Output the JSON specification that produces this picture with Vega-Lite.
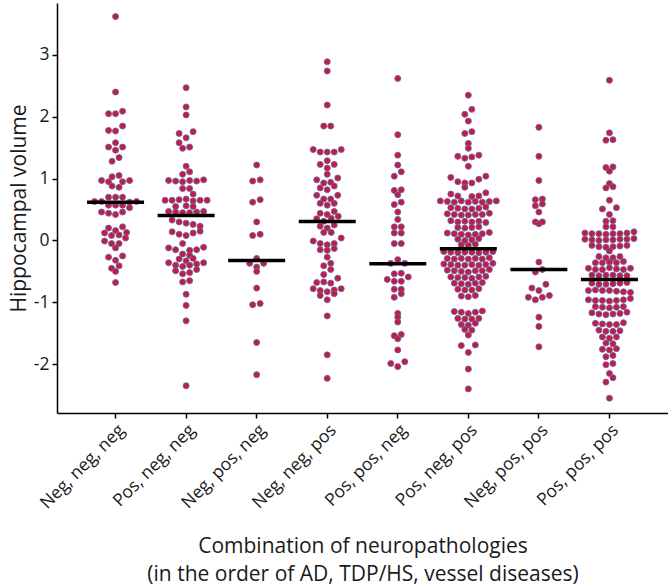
{
"$schema":"https://vega.github.io/schema/vega-lite/v6.json",
"width":611,"height":410,
"autosize":"none",
"padding":{"left":57,"top":3,"right":0,"bottom":174},
"background":"white",
"config":{"view":{"stroke":null},"font":"Open Sans",
"axis":{"domainColor":"#000","domainWidth":1.5,"tickColor":"#000","tickWidth":1.5,"tickSize":5,"grid":false,"labelFont":"Open Sans","titleFont":"Open Sans","labelFontSize":17.5,"labelColor":"#1a1a1a","titleFontSize":21,"titleFontWeight":"normal","titleColor":"#1a1a1a"}},
"datasets":{
"medians":[
{"group":"Neg, neg, neg","median":0.62},{"group":"Pos, neg, neg","median":0.405},{"group":"Neg, pos, neg","median":-0.324},{"group":"Neg, neg, pos","median":0.308},{"group":"Pos, pos, neg","median":-0.378},{"group":"Pos, neg, pos","median":-0.135},{"group":"Neg, pos, pos","median":-0.47},{"group":"Pos, pos, pos","median":-0.632}],
"points":[
{"group":"Neg, neg, neg","volume":3.62,"offset":0},{"group":"Neg, neg, neg","volume":2.40,"offset":0},{"group":"Neg, neg, neg","volume":2.09,"offset":7},{"group":"Neg, neg, neg","volume":2.05,"offset":-7},{"group":"Neg, neg, neg","volume":2.05,"offset":0},{"group":"Neg, neg, neg","volume":1.85,"offset":7},{"group":"Neg, neg, neg","volume":1.78,"offset":-7},{"group":"Neg, neg, neg","volume":1.77,"offset":0},{"group":"Neg, neg, neg","volume":1.58,"offset":0},{"group":"Neg, neg, neg","volume":1.51,"offset":-7},{"group":"Neg, neg, neg","volume":1.51,"offset":7},{"group":"Neg, neg, neg","volume":1.46,"offset":0},{"group":"Neg, neg, neg","volume":1.34,"offset":3.5},{"group":"Neg, neg, neg","volume":1.28,"offset":-3.5},
{"group":"Neg, neg, neg","volume":1.05,"offset":3.5},{"group":"Neg, neg, neg","volume":1.03,"offset":-3.5},{"group":"Neg, neg, neg","volume":0.97,"offset":-14},{"group":"Neg, neg, neg","volume":0.97,"offset":14},{"group":"Neg, neg, neg","volume":0.95,"offset":-7},{"group":"Neg, neg, neg","volume":0.95,"offset":7},{"group":"Neg, neg, neg","volume":0.88,"offset":-3.5},{"group":"Neg, neg, neg","volume":0.86,"offset":3.5},
{"group":"Neg, neg, neg","volume":0.70,"offset":-7},{"group":"Neg, neg, neg","volume":0.70,"offset":0},{"group":"Neg, neg, neg","volume":0.70,"offset":7},
{"group":"Neg, neg, neg","volume":0.63,"offset":-21},{"group":"Neg, neg, neg","volume":0.63,"offset":-14},{"group":"Neg, neg, neg","volume":0.62,"offset":14},{"group":"Neg, neg, neg","volume":0.63,"offset":21},
{"group":"Neg, neg, neg","volume":0.57,"offset":-7},{"group":"Neg, neg, neg","volume":0.57,"offset":0},{"group":"Neg, neg, neg","volume":0.57,"offset":7},{"group":"Neg, neg, neg","volume":0.53,"offset":14},
{"group":"Neg, neg, neg","volume":0.46,"offset":-14},{"group":"Neg, neg, neg","volume":0.44,"offset":-7},{"group":"Neg, neg, neg","volume":0.42,"offset":0},{"group":"Neg, neg, neg","volume":0.46,"offset":7},
{"group":"Neg, neg, neg","volume":0.22,"offset":7},{"group":"Neg, neg, neg","volume":0.20,"offset":-7},{"group":"Neg, neg, neg","volume":0.16,"offset":0},{"group":"Neg, neg, neg","volume":0.13,"offset":11},{"group":"Neg, neg, neg","volume":0.12,"offset":-11},{"group":"Neg, neg, neg","volume":0.08,"offset":-4},{"group":"Neg, neg, neg","volume":0.09,"offset":3.5},
{"group":"Neg, neg, neg","volume":0.04,"offset":10},{"group":"Neg, neg, neg","volume":-0.01,"offset":-11},{"group":"Neg, neg, neg","volume":-0.05,"offset":-4},{"group":"Neg, neg, neg","volume":-0.05,"offset":3.5},{"group":"Neg, neg, neg","volume":-0.12,"offset":0},
{"group":"Neg, neg, neg","volume":-0.25,"offset":7},{"group":"Neg, neg, neg","volume":-0.27,"offset":-7},{"group":"Neg, neg, neg","volume":-0.32,"offset":0},{"group":"Neg, neg, neg","volume":-0.41,"offset":3.5},{"group":"Neg, neg, neg","volume":-0.45,"offset":-4},{"group":"Neg, neg, neg","volume":-0.50,"offset":0},{"group":"Neg, neg, neg","volume":-0.68,"offset":0},

{"group":"Pos, neg, neg","volume":2.47,"offset":0},{"group":"Pos, neg, neg","volume":2.16,"offset":0},{"group":"Pos, neg, neg","volume":2.03,"offset":0},{"group":"Pos, neg, neg","volume":1.76,"offset":7},{"group":"Pos, neg, neg","volume":1.73,"offset":-7},{"group":"Pos, neg, neg","volume":1.66,"offset":0},{"group":"Pos, neg, neg","volume":1.58,"offset":-7},{"group":"Pos, neg, neg","volume":1.51,"offset":3.5},{"group":"Pos, neg, neg","volume":1.49,"offset":-3.5},{"group":"Pos, neg, neg","volume":1.20,"offset":0},{"group":"Pos, neg, neg","volume":1.11,"offset":3.5},{"group":"Pos, neg, neg","volume":1.07,"offset":-3.5},
{"group":"Pos, neg, neg","volume":0.97,"offset":-17.5},{"group":"Pos, neg, neg","volume":0.96,"offset":-10.5},{"group":"Pos, neg, neg","volume":0.95,"offset":-3.5},{"group":"Pos, neg, neg","volume":0.97,"offset":3.5},{"group":"Pos, neg, neg","volume":0.96,"offset":10.5},{"group":"Pos, neg, neg","volume":0.98,"offset":17.5},
{"group":"Pos, neg, neg","volume":0.84,"offset":-3.5},{"group":"Pos, neg, neg","volume":0.84,"offset":3.5},{"group":"Pos, neg, neg","volume":0.75,"offset":7},
{"group":"Pos, neg, neg","volume":0.65,"offset":-21},{"group":"Pos, neg, neg","volume":0.65,"offset":-14},{"group":"Pos, neg, neg","volume":0.66,"offset":-7},{"group":"Pos, neg, neg","volume":0.67,"offset":0},{"group":"Pos, neg, neg","volume":0.64,"offset":7},{"group":"Pos, neg, neg","volume":0.65,"offset":14},{"group":"Pos, neg, neg","volume":0.65,"offset":21},
{"group":"Pos, neg, neg","volume":0.55,"offset":-10.5},{"group":"Pos, neg, neg","volume":0.56,"offset":0},{"group":"Pos, neg, neg","volume":0.55,"offset":7},
{"group":"Pos, neg, neg","volume":0.47,"offset":-17.5},{"group":"Pos, neg, neg","volume":0.46,"offset":-10.5},{"group":"Pos, neg, neg","volume":0.45,"offset":-3.5},{"group":"Pos, neg, neg","volume":0.45,"offset":3.5},{"group":"Pos, neg, neg","volume":0.46,"offset":10.5},{"group":"Pos, neg, neg","volume":0.47,"offset":17.5},
{"group":"Pos, neg, neg","volume":0.33,"offset":-14},{"group":"Pos, neg, neg","volume":0.30,"offset":-7},{"group":"Pos, neg, neg","volume":0.28,"offset":0},{"group":"Pos, neg, neg","volume":0.26,"offset":7},{"group":"Pos, neg, neg","volume":0.23,"offset":14},
{"group":"Pos, neg, neg","volume":0.14,"offset":-14},{"group":"Pos, neg, neg","volume":0.10,"offset":-7},{"group":"Pos, neg, neg","volume":0.08,"offset":0},{"group":"Pos, neg, neg","volume":0.12,"offset":7},{"group":"Pos, neg, neg","volume":0.15,"offset":14},
{"group":"Pos, neg, neg","volume":-0.05,"offset":-3.5},
{"group":"Pos, neg, neg","volume":-0.12,"offset":-17.5},{"group":"Pos, neg, neg","volume":-0.15,"offset":-10.5},{"group":"Pos, neg, neg","volume":-0.16,"offset":3.5},{"group":"Pos, neg, neg","volume":-0.15,"offset":10.5},{"group":"Pos, neg, neg","volume":-0.11,"offset":17.5},
{"group":"Pos, neg, neg","volume":-0.22,"offset":-3.5},{"group":"Pos, neg, neg","volume":-0.24,"offset":3.5},
{"group":"Pos, neg, neg","volume":-0.30,"offset":-7},{"group":"Pos, neg, neg","volume":-0.33,"offset":0},{"group":"Pos, neg, neg","volume":-0.29,"offset":7},{"group":"Pos, neg, neg","volume":-0.36,"offset":-17.5},{"group":"Pos, neg, neg","volume":-0.40,"offset":-10.5},{"group":"Pos, neg, neg","volume":-0.42,"offset":-3.5},{"group":"Pos, neg, neg","volume":-0.40,"offset":3.5},{"group":"Pos, neg, neg","volume":-0.38,"offset":10.5},{"group":"Pos, neg, neg","volume":-0.36,"offset":17.5},
{"group":"Pos, neg, neg","volume":-0.49,"offset":-10.5},{"group":"Pos, neg, neg","volume":-0.54,"offset":-3.5},{"group":"Pos, neg, neg","volume":-0.52,"offset":3.5},{"group":"Pos, neg, neg","volume":-0.47,"offset":10.5},
{"group":"Pos, neg, neg","volume":-0.67,"offset":-3.5},{"group":"Pos, neg, neg","volume":-0.65,"offset":3.5},
{"group":"Pos, neg, neg","volume":-0.87,"offset":0},{"group":"Pos, neg, neg","volume":-1.05,"offset":0},{"group":"Pos, neg, neg","volume":-1.30,"offset":0},{"group":"Pos, neg, neg","volume":-2.35,"offset":0},

{"group":"Neg, pos, neg","volume":1.22,"offset":0},{"group":"Neg, pos, neg","volume":0.96,"offset":-4},{"group":"Neg, pos, neg","volume":0.98,"offset":3.5},{"group":"Neg, pos, neg","volume":0.62,"offset":-4},{"group":"Neg, pos, neg","volume":0.66,"offset":3.5},{"group":"Neg, pos, neg","volume":0.30,"offset":0},{"group":"Neg, pos, neg","volume":0.08,"offset":-4},{"group":"Neg, pos, neg","volume":0.10,"offset":3.5},{"group":"Neg, pos, neg","volume":-0.29,"offset":0},{"group":"Neg, pos, neg","volume":-0.37,"offset":-7},{"group":"Neg, pos, neg","volume":-0.37,"offset":7},{"group":"Neg, pos, neg","volume":-0.43,"offset":0},{"group":"Neg, pos, neg","volume":-0.50,"offset":0},{"group":"Neg, pos, neg","volume":-0.77,"offset":0},{"group":"Neg, pos, neg","volume":-1.04,"offset":-4},{"group":"Neg, pos, neg","volume":-1.02,"offset":3.5},{"group":"Neg, pos, neg","volume":-1.65,"offset":0},{"group":"Neg, pos, neg","volume":-2.17,"offset":0},

{"group":"Neg, neg, pos","volume":2.89,"offset":0},{"group":"Neg, neg, pos","volume":2.74,"offset":0},{"group":"Neg, neg, pos","volume":2.19,"offset":0},{"group":"Neg, neg, pos","volume":1.85,"offset":-3.5},{"group":"Neg, neg, pos","volume":1.85,"offset":3.5},{"group":"Neg, neg, pos","volume":1.47,"offset":-14},{"group":"Neg, neg, pos","volume":1.43,"offset":-7},{"group":"Neg, neg, pos","volume":1.43,"offset":0},{"group":"Neg, neg, pos","volume":1.43,"offset":7},{"group":"Neg, neg, pos","volume":1.47,"offset":14},{"group":"Neg, neg, pos","volume":1.29,"offset":0},{"group":"Neg, neg, pos","volume":1.23,"offset":-7},{"group":"Neg, neg, pos","volume":1.23,"offset":7},{"group":"Neg, neg, pos","volume":1.17,"offset":0},{"group":"Neg, neg, pos","volume":1.07,"offset":0},
{"group":"Neg, neg, pos","volume":0.98,"offset":-10.5},{"group":"Neg, neg, pos","volume":0.93,"offset":-3.5},{"group":"Neg, neg, pos","volume":0.94,"offset":3.5},{"group":"Neg, neg, pos","volume":1.01,"offset":10.5},{"group":"Neg, neg, pos","volume":0.88,"offset":7},{"group":"Neg, neg, pos","volume":0.85,"offset":-7},{"group":"Neg, neg, pos","volume":0.82,"offset":0},{"group":"Neg, neg, pos","volume":0.73,"offset":-10.5},{"group":"Neg, neg, pos","volume":0.73,"offset":10.5},
{"group":"Neg, neg, pos","volume":0.67,"offset":-3.5},{"group":"Neg, neg, pos","volume":0.67,"offset":3.5},{"group":"Neg, neg, pos","volume":0.60,"offset":-7},{"group":"Neg, neg, pos","volume":0.57,"offset":0},{"group":"Neg, neg, pos","volume":0.60,"offset":7},
{"group":"Neg, neg, pos","volume":0.44,"offset":-7},{"group":"Neg, neg, pos","volume":0.42,"offset":0},{"group":"Neg, neg, pos","volume":0.47,"offset":7},{"group":"Neg, neg, pos","volume":0.39,"offset":11},{"group":"Neg, neg, pos","volume":0.35,"offset":-10.5},{"group":"Neg, neg, pos","volume":0.36,"offset":4},{"group":"Neg, neg, pos","volume":0.31,"offset":-3.5},{"group":"Neg, neg, pos","volume":0.25,"offset":7},{"group":"Neg, neg, pos","volume":0.23,"offset":-7},{"group":"Neg, neg, pos","volume":0.20,"offset":0},{"group":"Neg, neg, pos","volume":0.13,"offset":-3.5},{"group":"Neg, neg, pos","volume":0.13,"offset":4},
{"group":"Neg, neg, pos","volume":-0.01,"offset":-14},{"group":"Neg, neg, pos","volume":-0.05,"offset":-7},{"group":"Neg, neg, pos","volume":-0.07,"offset":0},{"group":"Neg, neg, pos","volume":-0.05,"offset":7},{"group":"Neg, neg, pos","volume":0.04,"offset":14},{"group":"Neg, neg, pos","volume":-0.15,"offset":-7},{"group":"Neg, neg, pos","volume":-0.16,"offset":0},{"group":"Neg, neg, pos","volume":-0.13,"offset":7},
{"group":"Neg, neg, pos","volume":-0.27,"offset":0},{"group":"Neg, neg, pos","volume":-0.37,"offset":3.5},{"group":"Neg, neg, pos","volume":-0.41,"offset":-3.5},{"group":"Neg, neg, pos","volume":-0.47,"offset":3.5},
{"group":"Neg, neg, pos","volume":-0.55,"offset":-3.5},{"group":"Neg, neg, pos","volume":-0.61,"offset":10.5},{"group":"Neg, neg, pos","volume":-0.68,"offset":-10.5},{"group":"Neg, neg, pos","volume":-0.67,"offset":-3.5},{"group":"Neg, neg, pos","volume":-0.69,"offset":3.5},{"group":"Neg, neg, pos","volume":-0.78,"offset":-14},{"group":"Neg, neg, pos","volume":-0.81,"offset":-7},{"group":"Neg, neg, pos","volume":-0.83,"offset":0},{"group":"Neg, neg, pos","volume":-0.80,"offset":7},{"group":"Neg, neg, pos","volume":-0.78,"offset":14},{"group":"Neg, neg, pos","volume":-0.89,"offset":-7},{"group":"Neg, neg, pos","volume":-0.96,"offset":0},{"group":"Neg, neg, pos","volume":-0.86,"offset":7},
{"group":"Neg, neg, pos","volume":-1.22,"offset":0},{"group":"Neg, neg, pos","volume":-1.85,"offset":0},{"group":"Neg, neg, pos","volume":-2.23,"offset":0},

{"group":"Pos, pos, neg","volume":2.62,"offset":0},{"group":"Pos, pos, neg","volume":1.71,"offset":0},{"group":"Pos, pos, neg","volume":1.38,"offset":0},{"group":"Pos, pos, neg","volume":1.22,"offset":0},{"group":"Pos, pos, neg","volume":1.11,"offset":3.5},{"group":"Pos, pos, neg","volume":1.04,"offset":-3.5},{"group":"Pos, pos, neg","volume":0.81,"offset":-3.5},{"group":"Pos, pos, neg","volume":0.82,"offset":3.5},{"group":"Pos, pos, neg","volume":0.74,"offset":0},{"group":"Pos, pos, neg","volume":0.62,"offset":3.5},{"group":"Pos, pos, neg","volume":0.58,"offset":-3.5},{"group":"Pos, pos, neg","volume":0.46,"offset":0},{"group":"Pos, pos, neg","volume":0.34,"offset":0},{"group":"Pos, pos, neg","volume":0.22,"offset":-3.5},{"group":"Pos, pos, neg","volume":0.22,"offset":3.5},{"group":"Pos, pos, neg","volume":0.12,"offset":-3.5},{"group":"Pos, pos, neg","volume":0.12,"offset":3.5},{"group":"Pos, pos, neg","volume":-0.05,"offset":-3.5},{"group":"Pos, pos, neg","volume":-0.05,"offset":3.5},{"group":"Pos, pos, neg","volume":-0.31,"offset":0},{"group":"Pos, pos, neg","volume":-0.37,"offset":-7},{"group":"Pos, pos, neg","volume":-0.37,"offset":7},{"group":"Pos, pos, neg","volume":-0.54,"offset":-3.5},{"group":"Pos, pos, neg","volume":-0.53,"offset":3.5},{"group":"Pos, pos, neg","volume":-0.59,"offset":10.5},{"group":"Pos, pos, neg","volume":-0.63,"offset":-10.5},{"group":"Pos, pos, neg","volume":-0.66,"offset":-3.5},{"group":"Pos, pos, neg","volume":-0.66,"offset":3.5},
{"group":"Pos, pos, neg","volume":-0.79,"offset":-3.5},{"group":"Pos, pos, neg","volume":-0.79,"offset":3.5},{"group":"Pos, pos, neg","volume":-0.92,"offset":-3.5},{"group":"Pos, pos, neg","volume":-0.86,"offset":3.5},{"group":"Pos, pos, neg","volume":-1.18,"offset":0},{"group":"Pos, pos, neg","volume":-1.24,"offset":0},{"group":"Pos, pos, neg","volume":-1.32,"offset":0},{"group":"Pos, pos, neg","volume":-1.54,"offset":-3.5},{"group":"Pos, pos, neg","volume":-1.52,"offset":3.5},{"group":"Pos, pos, neg","volume":-1.59,"offset":0},{"group":"Pos, pos, neg","volume":-1.77,"offset":0},{"group":"Pos, pos, neg","volume":-1.99,"offset":-7},{"group":"Pos, pos, neg","volume":-1.96,"offset":7},{"group":"Pos, pos, neg","volume":-2.04,"offset":0},

{"group":"Pos, neg, pos","volume":2.35,"offset":0},{"group":"Pos, neg, pos","volume":2.12,"offset":3.5},{"group":"Pos, neg, pos","volume":2.04,"offset":-3.5},{"group":"Pos, neg, pos","volume":1.93,"offset":0},{"group":"Pos, neg, pos","volume":1.76,"offset":3.5},{"group":"Pos, neg, pos","volume":1.73,"offset":-3.5},{"group":"Pos, neg, pos","volume":1.57,"offset":0},{"group":"Pos, neg, pos","volume":1.49,"offset":0},
{"group":"Pos, neg, pos","volume":1.36,"offset":-10.5},{"group":"Pos, neg, pos","volume":1.33,"offset":-3.5},{"group":"Pos, neg, pos","volume":1.35,"offset":3.5},{"group":"Pos, neg, pos","volume":1.38,"offset":10.5},{"group":"Pos, neg, pos","volume":1.20,"offset":0},
{"group":"Pos, neg, pos","volume":1.02,"offset":-17.5},{"group":"Pos, neg, pos","volume":0.95,"offset":-10.5},{"group":"Pos, neg, pos","volume":0.93,"offset":-3.5},{"group":"Pos, neg, pos","volume":0.93,"offset":3.5},{"group":"Pos, neg, pos","volume":0.99,"offset":10.5},{"group":"Pos, neg, pos","volume":1.04,"offset":17.5},
{"group":"Pos, neg, pos","volume":0.86,"offset":-3.5},{"group":"Pos, neg, pos","volume":0.75,"offset":-17.5},{"group":"Pos, neg, pos","volume":0.77,"offset":17.5},{"group":"Pos, neg, pos","volume":0.72,"offset":-10.5},{"group":"Pos, neg, pos","volume":0.71,"offset":3.5},{"group":"Pos, neg, pos","volume":0.72,"offset":10.5},
{"group":"Pos, neg, pos","volume":0.64,"offset":-28},{"group":"Pos, neg, pos","volume":0.63,"offset":-21},{"group":"Pos, neg, pos","volume":0.62,"offset":-14},{"group":"Pos, neg, pos","volume":0.64,"offset":-7},{"group":"Pos, neg, pos","volume":0.62,"offset":0},{"group":"Pos, neg, pos","volume":0.63,"offset":7},{"group":"Pos, neg, pos","volume":0.62,"offset":14},{"group":"Pos, neg, pos","volume":0.63,"offset":21},{"group":"Pos, neg, pos","volume":0.64,"offset":28},
{"group":"Pos, neg, pos","volume":0.53,"offset":-17.5},{"group":"Pos, neg, pos","volume":0.52,"offset":-10.5},{"group":"Pos, neg, pos","volume":0.51,"offset":-3.5},{"group":"Pos, neg, pos","volume":0.51,"offset":3.5},{"group":"Pos, neg, pos","volume":0.52,"offset":10.5},{"group":"Pos, neg, pos","volume":0.54,"offset":17.5},
{"group":"Pos, neg, pos","volume":0.43,"offset":-21},{"group":"Pos, neg, pos","volume":0.42,"offset":-14},{"group":"Pos, neg, pos","volume":0.41,"offset":-7},{"group":"Pos, neg, pos","volume":0.41,"offset":0},{"group":"Pos, neg, pos","volume":0.42,"offset":7},{"group":"Pos, neg, pos","volume":0.42,"offset":14},{"group":"Pos, neg, pos","volume":0.44,"offset":21},
{"group":"Pos, neg, pos","volume":0.32,"offset":-17.5},{"group":"Pos, neg, pos","volume":0.30,"offset":-10.5},{"group":"Pos, neg, pos","volume":0.31,"offset":-3.5},{"group":"Pos, neg, pos","volume":0.30,"offset":3.5},{"group":"Pos, neg, pos","volume":0.31,"offset":10.5},{"group":"Pos, neg, pos","volume":0.29,"offset":17.5},
{"group":"Pos, neg, pos","volume":0.21,"offset":-10.5},{"group":"Pos, neg, pos","volume":0.20,"offset":-3.5},{"group":"Pos, neg, pos","volume":0.21,"offset":3.5},{"group":"Pos, neg, pos","volume":0.22,"offset":10.5},
{"group":"Pos, neg, pos","volume":0.12,"offset":-21},{"group":"Pos, neg, pos","volume":0.11,"offset":-14},{"group":"Pos, neg, pos","volume":0.10,"offset":-7},{"group":"Pos, neg, pos","volume":0.09,"offset":0},{"group":"Pos, neg, pos","volume":0.10,"offset":7},{"group":"Pos, neg, pos","volume":0.11,"offset":14},{"group":"Pos, neg, pos","volume":0.13,"offset":21},
{"group":"Pos, neg, pos","volume":0.02,"offset":-10.5},{"group":"Pos, neg, pos","volume":0.00,"offset":-3.5},{"group":"Pos, neg, pos","volume":0.01,"offset":3.5},{"group":"Pos, neg, pos","volume":0.03,"offset":10.5},
{"group":"Pos, neg, pos","volume":-0.07,"offset":-7},{"group":"Pos, neg, pos","volume":-0.08,"offset":0},{"group":"Pos, neg, pos","volume":-0.06,"offset":7},
{"group":"Pos, neg, pos","volume":-0.18,"offset":-24.5},{"group":"Pos, neg, pos","volume":-0.19,"offset":-17.5},{"group":"Pos, neg, pos","volume":-0.20,"offset":-10.5},{"group":"Pos, neg, pos","volume":-0.19,"offset":-3.5},{"group":"Pos, neg, pos","volume":-0.19,"offset":3.5},{"group":"Pos, neg, pos","volume":-0.20,"offset":10.5},{"group":"Pos, neg, pos","volume":-0.19,"offset":17.5},{"group":"Pos, neg, pos","volume":-0.18,"offset":24.5},
{"group":"Pos, neg, pos","volume":-0.29,"offset":-21},{"group":"Pos, neg, pos","volume":-0.30,"offset":-14},{"group":"Pos, neg, pos","volume":-0.29,"offset":-7},{"group":"Pos, neg, pos","volume":-0.30,"offset":0},{"group":"Pos, neg, pos","volume":-0.29,"offset":7},{"group":"Pos, neg, pos","volume":-0.30,"offset":14},{"group":"Pos, neg, pos","volume":-0.28,"offset":21},
{"group":"Pos, neg, pos","volume":-0.38,"offset":-24.5},{"group":"Pos, neg, pos","volume":-0.39,"offset":-17.5},{"group":"Pos, neg, pos","volume":-0.40,"offset":-10.5},{"group":"Pos, neg, pos","volume":-0.40,"offset":-3.5},{"group":"Pos, neg, pos","volume":-0.39,"offset":3.5},{"group":"Pos, neg, pos","volume":-0.40,"offset":10.5},{"group":"Pos, neg, pos","volume":-0.39,"offset":17.5},{"group":"Pos, neg, pos","volume":-0.37,"offset":24.5},
{"group":"Pos, neg, pos","volume":-0.48,"offset":-21},{"group":"Pos, neg, pos","volume":-0.49,"offset":-14},{"group":"Pos, neg, pos","volume":-0.50,"offset":-7},{"group":"Pos, neg, pos","volume":-0.51,"offset":0},{"group":"Pos, neg, pos","volume":-0.49,"offset":7},{"group":"Pos, neg, pos","volume":-0.49,"offset":14},{"group":"Pos, neg, pos","volume":-0.47,"offset":21},
{"group":"Pos, neg, pos","volume":-0.59,"offset":-17.5},{"group":"Pos, neg, pos","volume":-0.60,"offset":-10.5},{"group":"Pos, neg, pos","volume":-0.60,"offset":-3.5},{"group":"Pos, neg, pos","volume":-0.61,"offset":3.5},{"group":"Pos, neg, pos","volume":-0.59,"offset":10.5},{"group":"Pos, neg, pos","volume":-0.58,"offset":17.5},
{"group":"Pos, neg, pos","volume":-0.69,"offset":-14},{"group":"Pos, neg, pos","volume":-0.70,"offset":-7},{"group":"Pos, neg, pos","volume":-0.71,"offset":0},{"group":"Pos, neg, pos","volume":-0.69,"offset":7},{"group":"Pos, neg, pos","volume":-0.68,"offset":14},
{"group":"Pos, neg, pos","volume":-0.79,"offset":-10.5},{"group":"Pos, neg, pos","volume":-0.80,"offset":-3.5},{"group":"Pos, neg, pos","volume":-0.80,"offset":3.5},{"group":"Pos, neg, pos","volume":-0.78,"offset":10.5},
{"group":"Pos, neg, pos","volume":-0.90,"offset":-7},{"group":"Pos, neg, pos","volume":-0.91,"offset":0},{"group":"Pos, neg, pos","volume":-0.89,"offset":7},
{"group":"Pos, neg, pos","volume":-1.15,"offset":-14},{"group":"Pos, neg, pos","volume":-1.16,"offset":-7},{"group":"Pos, neg, pos","volume":-1.18,"offset":0},{"group":"Pos, neg, pos","volume":-1.16,"offset":7},{"group":"Pos, neg, pos","volume":-1.14,"offset":14},
{"group":"Pos, neg, pos","volume":-1.26,"offset":-10.5},{"group":"Pos, neg, pos","volume":-1.27,"offset":-3.5},{"group":"Pos, neg, pos","volume":-1.27,"offset":3.5},{"group":"Pos, neg, pos","volume":-1.26,"offset":10.5},
{"group":"Pos, neg, pos","volume":-1.36,"offset":-7},{"group":"Pos, neg, pos","volume":-1.37,"offset":0},{"group":"Pos, neg, pos","volume":-1.34,"offset":7},
{"group":"Pos, neg, pos","volume":-1.44,"offset":-3.5},{"group":"Pos, neg, pos","volume":-1.45,"offset":3.5},{"group":"Pos, neg, pos","volume":-1.53,"offset":0},
{"group":"Pos, neg, pos","volume":-1.70,"offset":-7},{"group":"Pos, neg, pos","volume":-1.69,"offset":7},{"group":"Pos, neg, pos","volume":-1.81,"offset":0},{"group":"Pos, neg, pos","volume":-2.08,"offset":0},{"group":"Pos, neg, pos","volume":-2.40,"offset":0},

{"group":"Neg, pos, pos","volume":1.83,"offset":0},{"group":"Neg, pos, pos","volume":1.36,"offset":0},{"group":"Neg, pos, pos","volume":0.97,"offset":0},{"group":"Neg, pos, pos","volume":0.66,"offset":-3.5},{"group":"Neg, pos, pos","volume":0.67,"offset":3.5},{"group":"Neg, pos, pos","volume":0.56,"offset":-3.5},{"group":"Neg, pos, pos","volume":0.59,"offset":3.5},{"group":"Neg, pos, pos","volume":0.46,"offset":0},{"group":"Neg, pos, pos","volume":0.30,"offset":-3.5},{"group":"Neg, pos, pos","volume":0.27,"offset":0},{"group":"Neg, pos, pos","volume":0.30,"offset":3.5},{"group":"Neg, pos, pos","volume":-0.35,"offset":0},{"group":"Neg, pos, pos","volume":-0.51,"offset":-3.5},{"group":"Neg, pos, pos","volume":-0.47,"offset":3.5},{"group":"Neg, pos, pos","volume":-0.77,"offset":-7},{"group":"Neg, pos, pos","volume":-0.71,"offset":7},{"group":"Neg, pos, pos","volume":-0.81,"offset":0},{"group":"Neg, pos, pos","volume":-0.92,"offset":-10.5},{"group":"Neg, pos, pos","volume":-0.96,"offset":-3.5},{"group":"Neg, pos, pos","volume":-0.92,"offset":3.5},{"group":"Neg, pos, pos","volume":-0.89,"offset":10.5},{"group":"Neg, pos, pos","volume":-1.24,"offset":0},{"group":"Neg, pos, pos","volume":-1.39,"offset":0},{"group":"Neg, pos, pos","volume":-1.72,"offset":0},

{"group":"Pos, pos, pos","volume":2.59,"offset":0},{"group":"Pos, pos, pos","volume":1.74,"offset":0},{"group":"Pos, pos, pos","volume":1.62,"offset":-3.5},{"group":"Pos, pos, pos","volume":1.63,"offset":3.5},{"group":"Pos, pos, pos","volume":1.18,"offset":-3.5},{"group":"Pos, pos, pos","volume":1.19,"offset":3.5},{"group":"Pos, pos, pos","volume":1.12,"offset":0},{"group":"Pos, pos, pos","volume":0.92,"offset":0},{"group":"Pos, pos, pos","volume":0.85,"offset":-3.5},{"group":"Pos, pos, pos","volume":0.87,"offset":3.5},{"group":"Pos, pos, pos","volume":0.65,"offset":0},{"group":"Pos, pos, pos","volume":0.51,"offset":-7},{"group":"Pos, pos, pos","volume":0.53,"offset":7},{"group":"Pos, pos, pos","volume":0.42,"offset":0},{"group":"Pos, pos, pos","volume":0.31,"offset":-3.5},{"group":"Pos, pos, pos","volume":0.32,"offset":3.5},{"group":"Pos, pos, pos","volume":0.22,"offset":-3.5},{"group":"Pos, pos, pos","volume":0.22,"offset":3.5},
{"group":"Pos, pos, pos","volume":0.12,"offset":-24.5},{"group":"Pos, pos, pos","volume":0.11,"offset":-17.5},{"group":"Pos, pos, pos","volume":0.11,"offset":-10.5},{"group":"Pos, pos, pos","volume":0.10,"offset":-3.5},{"group":"Pos, pos, pos","volume":0.11,"offset":3.5},{"group":"Pos, pos, pos","volume":0.11,"offset":10.5},{"group":"Pos, pos, pos","volume":0.12,"offset":17.5},{"group":"Pos, pos, pos","volume":0.14,"offset":24.5},
{"group":"Pos, pos, pos","volume":0.02,"offset":-24.5},{"group":"Pos, pos, pos","volume":0.01,"offset":-17.5},{"group":"Pos, pos, pos","volume":0.00,"offset":-10.5},{"group":"Pos, pos, pos","volume":0.01,"offset":-3.5},{"group":"Pos, pos, pos","volume":0.01,"offset":3.5},{"group":"Pos, pos, pos","volume":0.02,"offset":10.5},{"group":"Pos, pos, pos","volume":0.02,"offset":17.5},{"group":"Pos, pos, pos","volume":0.03,"offset":24.5},
{"group":"Pos, pos, pos","volume":-0.08,"offset":-17.5},{"group":"Pos, pos, pos","volume":-0.10,"offset":-10.5},{"group":"Pos, pos, pos","volume":-0.11,"offset":-3.5},{"group":"Pos, pos, pos","volume":-0.10,"offset":3.5},{"group":"Pos, pos, pos","volume":-0.09,"offset":10.5},{"group":"Pos, pos, pos","volume":-0.08,"offset":17.5},
{"group":"Pos, pos, pos","volume":-0.17,"offset":0},
{"group":"Pos, pos, pos","volume":-0.26,"offset":-10.5},{"group":"Pos, pos, pos","volume":-0.28,"offset":-3.5},{"group":"Pos, pos, pos","volume":-0.28,"offset":3.5},{"group":"Pos, pos, pos","volume":-0.26,"offset":10.5},
{"group":"Pos, pos, pos","volume":-0.36,"offset":-14},{"group":"Pos, pos, pos","volume":-0.36,"offset":-7},{"group":"Pos, pos, pos","volume":-0.35,"offset":0},{"group":"Pos, pos, pos","volume":-0.36,"offset":7},{"group":"Pos, pos, pos","volume":-0.34,"offset":14},
{"group":"Pos, pos, pos","volume":-0.45,"offset":-21},{"group":"Pos, pos, pos","volume":-0.47,"offset":-14},{"group":"Pos, pos, pos","volume":-0.47,"offset":-7},{"group":"Pos, pos, pos","volume":-0.44,"offset":0},{"group":"Pos, pos, pos","volume":-0.46,"offset":7},{"group":"Pos, pos, pos","volume":-0.47,"offset":14},{"group":"Pos, pos, pos","volume":-0.45,"offset":21},
{"group":"Pos, pos, pos","volume":-0.56,"offset":-17.5},{"group":"Pos, pos, pos","volume":-0.57,"offset":-10.5},{"group":"Pos, pos, pos","volume":-0.56,"offset":-3.5},{"group":"Pos, pos, pos","volume":-0.56,"offset":3.5},{"group":"Pos, pos, pos","volume":-0.57,"offset":10.5},{"group":"Pos, pos, pos","volume":-0.57,"offset":17.5},
{"group":"Pos, pos, pos","volume":-0.69,"offset":-17.5},{"group":"Pos, pos, pos","volume":-0.71,"offset":-10.5},{"group":"Pos, pos, pos","volume":-0.71,"offset":-3.5},{"group":"Pos, pos, pos","volume":-0.70,"offset":3.5},{"group":"Pos, pos, pos","volume":-0.69,"offset":10.5},{"group":"Pos, pos, pos","volume":-0.68,"offset":17.5},
{"group":"Pos, pos, pos","volume":-0.81,"offset":-21},{"group":"Pos, pos, pos","volume":-0.80,"offset":-14},{"group":"Pos, pos, pos","volume":-0.81,"offset":-7},{"group":"Pos, pos, pos","volume":-0.81,"offset":0},{"group":"Pos, pos, pos","volume":-0.82,"offset":7},{"group":"Pos, pos, pos","volume":-0.83,"offset":14},{"group":"Pos, pos, pos","volume":-0.84,"offset":21},
{"group":"Pos, pos, pos","volume":-0.96,"offset":-21},{"group":"Pos, pos, pos","volume":-0.97,"offset":-14},{"group":"Pos, pos, pos","volume":-0.97,"offset":-7},{"group":"Pos, pos, pos","volume":-0.98,"offset":0},{"group":"Pos, pos, pos","volume":-0.97,"offset":7},{"group":"Pos, pos, pos","volume":-0.96,"offset":14},{"group":"Pos, pos, pos","volume":-0.94,"offset":21},
{"group":"Pos, pos, pos","volume":-1.07,"offset":-14},{"group":"Pos, pos, pos","volume":-1.08,"offset":-7},{"group":"Pos, pos, pos","volume":-1.09,"offset":0},{"group":"Pos, pos, pos","volume":-1.08,"offset":7},{"group":"Pos, pos, pos","volume":-1.07,"offset":14},
{"group":"Pos, pos, pos","volume":-1.17,"offset":-17.5},{"group":"Pos, pos, pos","volume":-1.19,"offset":-10.5},{"group":"Pos, pos, pos","volume":-1.20,"offset":-3.5},{"group":"Pos, pos, pos","volume":-1.19,"offset":3.5},{"group":"Pos, pos, pos","volume":-1.18,"offset":10.5},{"group":"Pos, pos, pos","volume":-1.16,"offset":17.5},
{"group":"Pos, pos, pos","volume":-1.34,"offset":-14},{"group":"Pos, pos, pos","volume":-1.35,"offset":-7},{"group":"Pos, pos, pos","volume":-1.36,"offset":0},{"group":"Pos, pos, pos","volume":-1.36,"offset":7},{"group":"Pos, pos, pos","volume":-1.33,"offset":14},
{"group":"Pos, pos, pos","volume":-1.45,"offset":-10.5},{"group":"Pos, pos, pos","volume":-1.47,"offset":-3.5},{"group":"Pos, pos, pos","volume":-1.47,"offset":3.5},{"group":"Pos, pos, pos","volume":-1.46,"offset":10.5},
{"group":"Pos, pos, pos","volume":-1.56,"offset":-7},{"group":"Pos, pos, pos","volume":-1.58,"offset":0},{"group":"Pos, pos, pos","volume":-1.56,"offset":7},
{"group":"Pos, pos, pos","volume":-1.66,"offset":-3.5},{"group":"Pos, pos, pos","volume":-1.67,"offset":3.5},
{"group":"Pos, pos, pos","volume":-1.76,"offset":-7},{"group":"Pos, pos, pos","volume":-1.77,"offset":0},{"group":"Pos, pos, pos","volume":-1.75,"offset":7},
{"group":"Pos, pos, pos","volume":-1.88,"offset":-3.5},{"group":"Pos, pos, pos","volume":-1.86,"offset":3.5},
{"group":"Pos, pos, pos","volume":-2.01,"offset":-3.5},{"group":"Pos, pos, pos","volume":-1.99,"offset":3.5},
{"group":"Pos, pos, pos","volume":-2.15,"offset":0},{"group":"Pos, pos, pos","volume":-2.22,"offset":3.5},{"group":"Pos, pos, pos","volume":-2.29,"offset":-3.5},{"group":"Pos, pos, pos","volume":-2.55,"offset":0}
]},
"layer":[
{"data":{"name":"points"},
 "mark":{"type":"circle","size":36,"fill":"#BD1F3E","stroke":"#7D5BA6","strokeWidth":0.9,"opacity":1,"fillOpacity":1},
 "encoding":{
  "x":{"field":"group","type":"nominal","sort":["Neg, neg, neg","Pos, neg, neg","Neg, pos, neg","Neg, neg, pos","Pos, pos, neg","Pos, neg, pos","Neg, pos, pos","Pos, pos, pos"],
   "scale":{"type":"band","paddingInner":0,"paddingOuter":0.33},
   "axis":{"title":["Combination of neuropathologies","(in the order of AD, TDP/HS, vessel diseases)"],"labelAngle":-45,"labelPadding":3,"titlePadding":24,"titleLineHeight":28}},
  "xOffset":{"field":"offset","type":"quantitative","scale":{"domain":[-35.27,35.27],"range":[0,70.55],"nice":false,"zero":false}},
  "y":{"field":"volume","type":"quantitative","scale":{"domain":[-2.79,3.84],"nice":false,"zero":false},
   "axis":{"values":[-2,-1,0,1,2,3],"labelExpr":"datum.value < 0 ? '-' + abs(datum.value) : '' + datum.value","title":"Hippocampal volume","labelPadding":3,"titlePadding":4}}
 }},
{"data":{"name":"medians"},
 "mark":{"type":"tick","color":"#000","thickness":3.5,"size":57,"opacity":1},
 "encoding":{
  "x":{"field":"group","type":"nominal","sort":["Neg, neg, neg","Pos, neg, neg","Neg, pos, neg","Neg, neg, pos","Pos, pos, neg","Pos, neg, pos","Neg, pos, pos","Pos, pos, pos"]},
  "y":{"field":"median","type":"quantitative"}
 }}
]
}
